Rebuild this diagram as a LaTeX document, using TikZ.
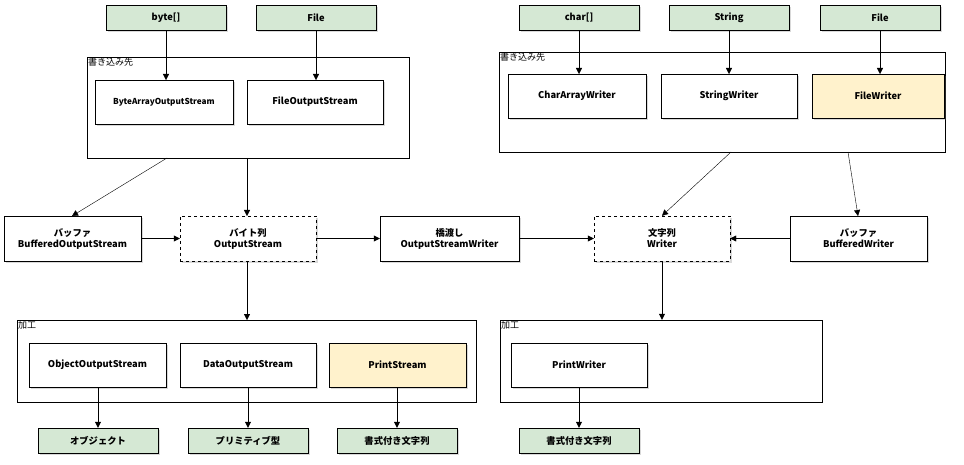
\documentclass[tikz,border=0pt]{standalone}
\usepackage{fontspec}
\setmainfont{Noto Sans CJK JP}
\usetikzlibrary{arrows.meta,shadows}
\definecolor{gfill}{HTML}{D5E8D4}
\definecolor{yfill}{HTML}{FFF2CC}
\begin{document}
\begin{tikzpicture}[x=1pt,y=-1pt,
  box/.style={draw=black,fill=white,inner sep=0pt,drop shadow={opacity=0.3,shadow xshift=2pt,shadow yshift=-2pt}},
  tx/.style={align=center,font=\bfseries\fontsize{9.3}{11}\selectfont},
  grp/.style={draw=black,fill=white,inner sep=0pt},
  glab/.style={anchor=north west,inner sep=1pt,font=\fontsize{9}{10}\selectfont},
  arr/.style={-{Triangle[length=6pt,width=6pt]},black}]
\useasboundingbox (0,0) rectangle (964,465);
\newcommand{\bx}[6]{\node[box,#6,minimum width=#3-#2,minimum height=#5-#4] (#1) at ({(#2+#3)/2},{(#4+#5)/2}) {};}
% groups
\node[grp,minimum width=322,minimum height=101] (gL) at (248,107.5) {};
\node[glab] at (87,57) {書き込み先};
\node[grp,minimum width=446,minimum height=100] (gR) at (722,102) {};
\node[glab] at (499,52) {書き込み先};
\node[grp,minimum width=459,minimum height=82] (pL) at (246.5,361) {};
\node[glab] at (17,320) {加工};
\node[grp,minimum width=322,minimum height=82] (pR) at (661,361) {};
\node[glab] at (500,320) {加工};
% top green
\bx{byte}{106}{226}{5}{30}{fill=gfill}
\bx{fileA}{256}{376}{5}{30}{fill=gfill}
\bx{chars}{519}{639}{5}{30}{fill=gfill}
\bx{str}{669}{789}{5}{30}{fill=gfill}
\bx{fileB}{820}{940}{5}{30}{fill=gfill}
\node[tx] at (byte) {byte[]};
\node[tx] at (fileA) {File};
\node[tx] at (chars) {char[]};
\node[tx] at (str) {String};
\node[tx] at (fileB) {File};
% writers/streams in groups
\bx{baos}{95}{233}{80}{124}{}
\bx{fos}{247}{383}{80}{124}{}
\bx{caw}{508}{646}{74}{118}{}
\bx{sw}{661}{797}{74}{118}{}
\bx{fw}{812}{944}{74}{118}{fill=yfill}
\node[tx,font=\bfseries\fontsize{8.2}{10}\selectfont] at (baos) {ByteArrayOutputStream};
\node[tx] at (fos) {FileOutputStream};
\node[tx] at (caw) {CharArrayWriter};
\node[tx] at (sw) {StringWriter};
\node[tx] at (fw) {FileWriter};
% middle row
\bx{bos}{4}{141}{216}{261}{}
\bx{os}{180}{316}{216}{261}{dashed}
\bx{osw}{380}{519}{216}{261}{}
\bx{wr}{594}{730}{216}{261}{dashed}
\bx{bw}{790}{927}{216}{261}{}
\node[tx] at (bos) {バッファ\\BufferedOutputStream};
\node[tx] at (os) {バイト列\\OutputStream};
\node[tx] at (osw) {橋渡し\\OutputStreamWriter};
\node[tx] at (wr) {文字列\\Writer};
\node[tx] at (bw) {バッファ\\BufferedWriter};
% processing
\bx{oos}{29}{166}{343}{387}{}
\bx{dos}{180}{316}{343}{387}{}
\bx{ps}{329}{466}{343}{387}{fill=yfill}
\bx{pw}{511}{647}{343}{387}{}
\node[tx] at (oos) {ObjectOutputStream};
\node[tx] at (dos) {DataOutputStream};
\node[tx] at (ps) {PrintStream};
\node[tx] at (pw) {PrintWriter};
% bottom green
\bx{obj}{38}{158}{428}{453}{fill=gfill}
\bx{prim}{188}{308}{428}{453}{fill=gfill}
\bx{fmtA}{337}{457}{428}{453}{fill=gfill}
\bx{fmtB}{519}{639}{428}{453}{fill=gfill}
\node[tx] at (obj) {オブジェクト};
\node[tx] at (prim) {プリミティブ型};
\node[tx] at (fmtA) {書式付き文字列};
\node[tx] at (fmtB) {書式付き文字列};
% arrows
\draw[arr] (byte.south -| 166,0) -- (166,80);
\draw[arr] (fileA.south -| 316,0) -- (316,80);
\draw[arr] (chars.south -| 579,0) -- (579,74);
\draw[arr] (str.south -| 729,0) -- (729,74);
\draw[arr] (fileB.south -| 880,0) -- (880,74);
\draw[arr] (167,158) -- (72,216);
\draw[arr] (247,158) -- (247,216);
\draw[arr] (731,152) -- (wr.north);
\draw[arr] (848,152) -- (858,216);
\draw[arr] (bos.east) -- (os.west);
\draw[arr] (os.east) -- (osw.west);
\draw[arr] (osw.east) -- (wr.west);
\draw[arr] (bw.west) -- (wr.east);
\draw[arr] (247,261) -- (247,320);
\draw[arr] (wr.south) -- (wr.south |- pR.north);
\draw[arr] (oos.south -| obj.north) -- (obj.north);
\draw[arr] (dos.south -| prim.north) -- (prim.north);
\draw[arr] (ps.south -| fmtA.north) -- (fmtA.north);
\draw[arr] (pw.south -| fmtB.north) -- (fmtB.north);
\end{tikzpicture}
\end{document}
